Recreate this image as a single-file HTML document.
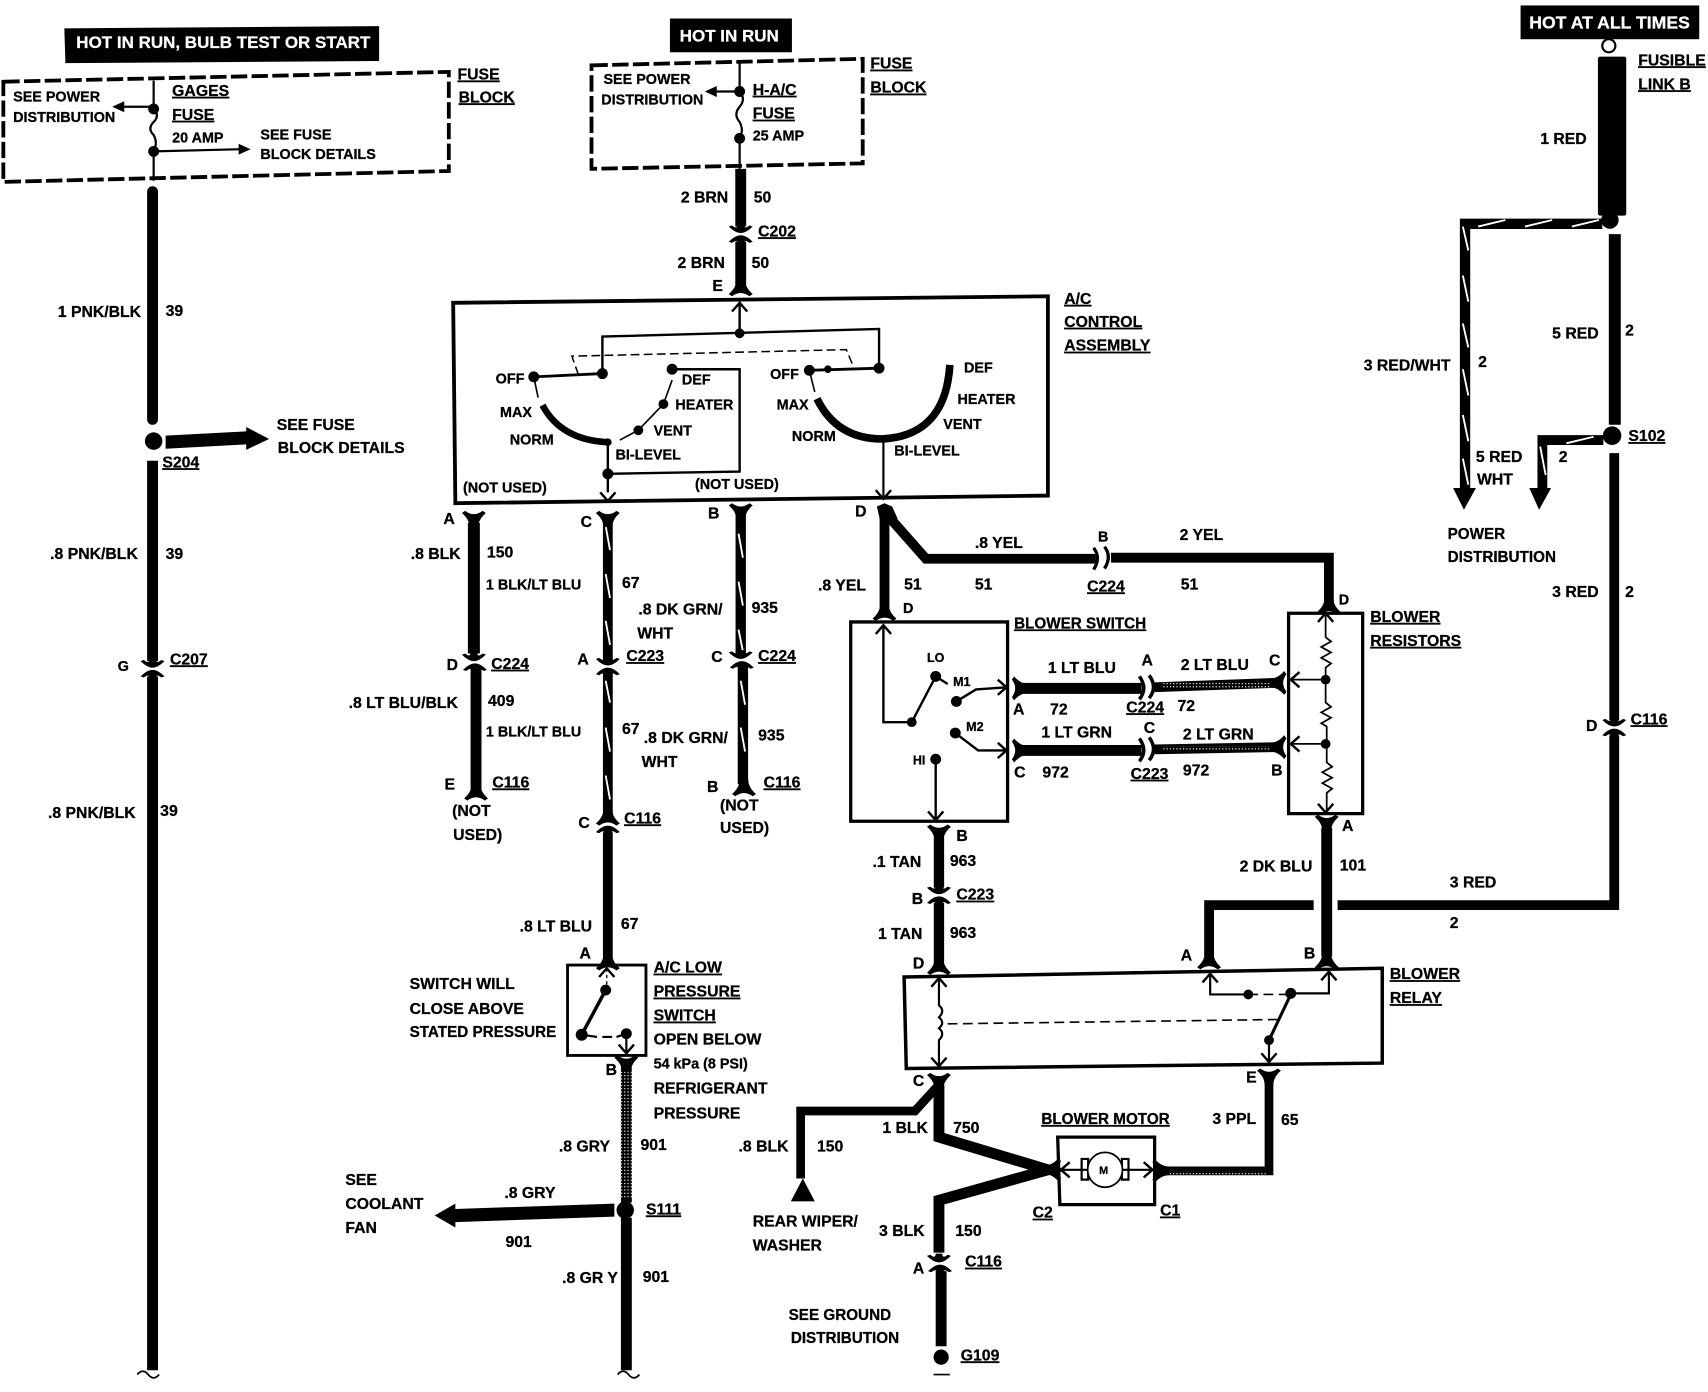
<!DOCTYPE html>
<html><head><meta charset="utf-8"><title>Wiring diagram</title>
<style>
html,body{margin:0;padding:0;background:#fff}
svg{display:block}
text{font-family:"Liberation Sans",sans-serif;font-weight:bold;font-size:14.5px;fill:#000;stroke:#000;stroke-width:.25px}
.s{font-size:13.2px}
.t{font-size:11.5px}
.u{text-decoration:underline}
.w{fill:#fff;stroke:#fff;font-size:15.6px}
.k{fill:none;stroke:#000;stroke-linejoin:miter}
.h{fill:none;stroke:#fff;stroke-width:1.7}
</style></head><body>
<svg width="1708" height="1392" viewBox="0 0 1568 1278" xmlns="http://www.w3.org/2000/svg">
<defs>
<path id="n" d="M-11,5 L-8,7 Q0,1 8,7 L11,5 Q4,-1 4,-8 L-4,-8 Q-4,-1 -11,5Z"/>
<path id="v" d="M-11,-5 L-8,-7 Q0,-1 8,-7 L11,-5 Q4,1 4,8 L-4,8 Q-4,1 -11,-5Z"/>
<path id="r" d="M-5,-11 L-7,-8 Q-1,0 -7,8 L-5,11 Q1,4 8,4 L8,-4 Q1,-4 -5,-11Z"/>
<path id="l" d="M5,-11 L7,-8 Q1,0 7,8 L5,11 Q-1,4 -8,4 L-8,-4 Q-1,-4 5,-11Z"/>
<path id="it" d="M-11,-7 L-8,-8 Q-3,-4 -3,-9 L3,-9 Q3,-4 8,-8 L11,-7 Q5,-1 0,-1 Q-5,-1 -11,-7Z"/>
<path id="ib" d="M-11,7 L-8,8 Q-3,4 -3,9 L3,9 Q3,4 8,8 L11,7 Q5,1 0,1 Q-5,1 -11,7Z"/>
<path id="au" d="M-7,8 L0,0 L7,8" fill="none" stroke="#000" stroke-width="2.2"/>
<path id="ad" d="M-7,-8 L0,0 L7,-8" fill="none" stroke="#000" stroke-width="2.2"/>
<path id="ar" d="M-8,-7 L0,0 L-8,7" fill="none" stroke="#000" stroke-width="2.2"/>
<path id="al" d="M8,-7 L0,0 L8,7" fill="none" stroke="#000" stroke-width="2.2"/>
<path id="wv" d="M-10,0 q5,-6 10,0 q5,6 10,0" fill="none" stroke="#000" stroke-width="1.6"/>
<pattern id="pd" width="3" height="3" patternUnits="userSpaceOnUse"><rect width="1.1" height="1.1" fill="#fff"/></pattern>
</defs>
<rect width="1568" height="1278" fill="#fff"/>

<!-- Left column -->
<polygon points="59,26 348,24 348,56 60,58" fill="#000"/>
<text x="70" y="44" class="w">HOT IN RUN, BULB TEST OR START</text>
<path class="k" stroke-width="3.5" stroke-dasharray="15 4" d="M3,75 L412,66 L412,157 L3,167Z"/>
<path class="k" stroke-width="2" d="M141,74 V100 q6,6 0,12 q-6,6 0,12 q4,7 0,15 V166 M141,98 H112 M141,139 L222,137"/>
<polygon points="103,98 114,93 114,103"/><polygon points="230,137 219,132 219,142"/>
<circle cx="141" cy="100" r="5"/><circle cx="141" cy="139" r="5"/>
<text x="12" y="93" class="s">SEE POWER</text><text x="12" y="112" class="s">DISTRIBUTION</text>
<text x="158" y="88" class="u">GAGES</text><text x="158" y="110" class="u">FUSE</text><text x="158" y="131" class="s">20 AMP</text>
<text x="239" y="128" class="s">SEE FUSE</text><text x="239" y="146" class="s">BLOCK DETAILS</text>
<text x="420" y="73" class="u">FUSE</text><text x="421" y="94" class="u">BLOCK</text>

<path class="k" stroke-width="10" stroke-linecap="round" d="M140,176 V385"/>
<circle cx="141" cy="405" r="8"/>
<polygon points="152,400 226,396 226,392 247,403 226,413 226,408 152,412"/>
<path class="k" stroke-width="10" d="M140,423 V607 M140,621 V1258"/>
<use href="#it" x="140" y="614"/><use href="#ib" x="140" y="614"/>
<use href="#wv" x="136" y="1262"/>
<text x="53" y="291">1 PNK/BLK</text><text x="152" y="290">39</text>
<text x="149" y="429" class="u">S204</text>
<text x="254" y="395">SEE FUSE</text><text x="255" y="416">BLOCK DETAILS</text>
<text x="46" y="513">.8 PNK/BLK</text><text x="152" y="513">39</text>
<text x="108" y="616" class="s">G</text><text x="156" y="610" class="u">C207</text>
<text x="44" y="751">.8 PNK/BLK</text><text x="147" y="749">39</text>

<!-- Center top -->
<rect x="615" y="17" width="112" height="31" fill="#000"/>
<text x="624" y="38" class="w">HOT IN RUN</text>
<path class="k" stroke-width="3.5" stroke-dasharray="15 4" d="M543,60 L792,54 L792,150 L543,155Z"/>
<path class="k" stroke-width="2" d="M679,56 V84 q6,7 0,14 q-6,7 0,14 q4,7 0,15 V155 M679,84 H656"/>
<polygon points="647,84 658,79 658,89"/>
<circle cx="679" cy="84" r="5"/><circle cx="679" cy="127" r="5"/>
<text x="554" y="77" class="s">SEE POWER</text><text x="552" y="96" class="s">DISTRIBUTION</text>
<text x="691" y="87" class="u">H-A/C</text><text x="691" y="109" class="u">FUSE</text><text x="691" y="129" class="s">25 AMP</text>
<text x="799" y="63" class="u">FUSE</text><text x="799" y="85" class="u">BLOCK</text>
<path class="k" stroke-width="10" d="M680,155 V208 M680,222 V262"/>
<use href="#it" x="680" y="215"/><use href="#ib" x="680" y="215"/><use href="#n" x="680" y="265"/>
<text x="625" y="186">2 BRN</text><text x="692" y="186">50</text><text x="696" y="217" class="u">C202</text>
<text x="622" y="246">2 BRN</text><text x="690" y="246">50</text><text x="654" y="267">E</text>

<!-- A/C control -->
<path class="k" stroke-width="3.5" d="M416,278 L962,272 V455 L418,462Z"/>
<text x="977" y="279" class="u">A/C</text><text x="977" y="300" class="u">CONTROL</text><text x="977" y="322" class="u">ASSEMBLY</text>
<path class="k" stroke-width="2.2" d="M679,278 V306 M553,343 V309 L807,302 V338"/>
<use href="#au" x="679" y="278"/>
<circle cx="679" cy="306" r="4.5"/><circle cx="553" cy="343" r="5"/><circle cx="807" cy="338" r="5"/>
<path class="k" stroke-width="1.4" stroke-dasharray="8 4" d="M531,344 L525,327 L777,321 L784,338"/>
<path class="k" stroke-width="2.6" d="M490,346 L553,343"/>
<circle cx="490" cy="346" r="5"/>
<path class="k" stroke-width="1.5" d="M490,346 L494,365"/>
<path class="k" stroke-width="6" d="M498,372 Q515,404 558,406"/>
<path class="k" stroke-width="2.2" d="M558,406 V452 M617,339 H679 V433 L558,435"/>
<use href="#ad" x="558" y="460"/>
<circle cx="617" cy="339" r="5"/><circle cx="558" cy="435" r="5"/><circle cx="558" cy="406" r="3.5"/>
<path class="k" stroke-width="1.5" d="M617,349 L609,371 L586,395 L569,404"/>
<circle cx="609" cy="371" r="4.5"/><circle cx="586" cy="395" r="4.5"/>
<path class="k" stroke-width="2.6" d="M743,340 L807,338"/>
<circle cx="743" cy="340" r="5"/><circle cx="760" cy="339" r="3.5"/>
<path class="k" stroke-width="1.5" d="M743,340 L748,360"/>
<path class="k" stroke-width="7" d="M750,366 Q768,403 810,403 Q868,400 872,335"/>
<path class="k" stroke-width="2" d="M811,404 V456"/>
<use href="#ad" x="811" y="458"/>
<g><text x="455" y="352" class="s">OFF</text><text x="459" y="383" class="s">MAX</text><text x="468" y="408" class="s">NORM</text><text x="565" y="422" class="s">BI-LEVEL</text><text x="425" y="452" class="s">(NOT USED)</text><text x="638" y="449" class="s">(NOT USED)</text><text x="626" y="353" class="s">DEF</text><text x="620" y="376" class="s">HEATER</text><text x="600" y="400" class="s">VENT</text><text x="707" y="348" class="s">OFF</text><text x="713" y="376" class="s">MAX</text><text x="727" y="405" class="s">NORM</text><text x="821" y="418" class="s">BI-LEVEL</text><text x="885" y="342" class="s">DEF</text><text x="879" y="371" class="s">HEATER</text><text x="866" y="394" class="s">VENT</text></g>

<!-- Wire A -->
<path class="k" stroke-width="11" d="M435,480 V600"/>
<path class="k" stroke-width="10" d="M437,614 V725"/>
<use href="#v" x="435" y="476"/><use href="#it" x="435" y="608"/><use href="#ib" x="436" y="608"/><use href="#n" x="437" y="728"/>
<text x="407" y="481">A</text><text x="377" y="513">.8 BLK</text><text x="447" y="512">150</text>
<text x="410" y="615">D</text><text x="451" y="614" class="u">C224</text>
<text x="320" y="650">.8 LT BLU/BLK</text><text x="448" y="648">409</text>
<text x="408" y="725">E</text><text x="452" y="723" class="u">C116</text>
<text x="415" y="749">(NOT</text><text x="416" y="771">USED)</text>

<!-- Wire C -->
<path class="k" stroke-width="9" d="M558,478 V606 M558,618 V748 M558,764 V880"/>
<path class="h" d="M556,483 l4,22 M556,527 l4,22 M556,570 l4,22 M556,625 l4,20 M556,668 l4,22 M556,712 l4,22"/>
<use href="#v" x="558" y="476"/><use href="#it" x="558" y="612"/><use href="#ib" x="558" y="612"/><use href="#n" x="558" y="751"/><use href="#ib" x="558" y="757"/><use href="#n" x="558" y="884"/>
<text x="533" y="484">C</text><text x="446" y="541" class="s">1 BLK/LT BLU</text><text x="571" y="540">67</text>
<text x="530" y="610">A</text><text x="575" y="607" class="u">C223</text>
<text x="446" y="676" class="s">1 BLK/LT BLU</text><text x="571" y="674">67</text>
<text x="531" y="760">C</text><text x="573" y="756" class="u">C116</text>
<text x="477" y="855">.8 LT BLU</text><text x="570" y="853">67</text><text x="532" y="880">A</text>

<!-- Wire B -->
<path class="k" stroke-width="9.5" d="M680,472 V600 M682,612 V720"/>
<path class="h" d="M678,490 l4,22 M678,534 l4,22 M678,578 l4,20 M680,625 l4,22 M680,668 l4,22"/>
<use href="#v" x="680" y="469"/><use href="#it" x="680" y="606"/><use href="#ib" x="681" y="606"/><use href="#n" x="683" y="724"/>
<text x="650" y="476">B</text><text x="586" y="564">.8 DK GRN/</text><text x="585" y="586">WHT</text><text x="690" y="563">935</text>
<text x="653" y="608">C</text><text x="696" y="607" class="u">C224</text>
<text x="591" y="682">.8 DK GRN/</text><text x="589" y="704">WHT</text><text x="696" y="680">935</text>
<text x="649" y="727">B</text><text x="701" y="723" class="u">C116</text><text x="661" y="744">(NOT</text><text x="661" y="765">USED)</text>

<!-- Pressure switch -->
<path class="k" stroke-width="2.6" d="M521,886 H593 V969 H521Z"/>
<use href="#au" x="557" y="889"/><use href="#ad" x="575" y="967"/>
<path class="k" stroke-width="1.2" stroke-dasharray="3 3" d="M557,889 V904"/>
<path class="k" stroke-width="3.2" d="M556,909 L534,950"/>
<path class="k" stroke-width="2" d="M534,950 L548,952 M553,952 H562 M566,952 L575,949 V966"/>
<circle cx="556" cy="909" r="5"/><circle cx="534" cy="950" r="5.5"/><circle cx="575" cy="949" r="5"/>
<text x="600" y="893" class="u">A/C LOW</text><text x="600" y="915" class="u">PRESSURE</text><text x="600" y="937" class="u">SWITCH</text>
<text x="600" y="959">OPEN BELOW</text><text x="600" y="981" class="s">54 kPa (8 PSI)</text><text x="600" y="1004">REFRIGERANT</text><text x="600" y="1027">PRESSURE</text>
<text x="376" y="908">SWITCH WILL</text><text x="376" y="931">CLOSE ABOVE</text><text x="376" y="952" style="font-size:14px">STATED PRESSURE</text>

<path class="k" stroke-width="10" d="M575,980 V1104 M575,1118 V1258"/>
<rect x="570" y="982" width="10" height="118" fill="url(#pd)"/>
<use href="#v" x="575" y="976"/><use href="#wv" x="577" y="1262"/>
<circle cx="574" cy="1111" r="8"/>
<polygon points="564,1105 418,1110 418,1105 399,1116 418,1127 418,1122 564,1117"/>
<text x="556" y="987">B</text><text x="513" y="1057">.8 GRY</text><text x="588" y="1056">901</text>
<text x="593" y="1115" class="u">S111</text><text x="463" y="1100">.8 GRY</text><text x="464" y="1145">901</text>
<text x="317" y="1088">SEE</text><text x="317" y="1110">COOLANT</text><text x="317" y="1132">FAN</text>
<text x="516" y="1178">.8 GR Y</text><text x="590" y="1177">901</text>

<!-- D yellow wire -->
<path class="k" stroke-width="9" d="M812,470 V558"/>
<path class="k" stroke-width="9" d="M812,470 L850,513 H1006 M1020,512 H1220 V553"/>
<polygon points="805,465 812,462 819,465 824,476 808,478"/>
<path class="k" stroke-width="3" d="M1004,503 q7,9 0,20 M1014,502 q7,9 0,20"/>
<use href="#n" x="812" y="563"/><use href="#n" x="1220" y="557"/>
<text x="785" y="474">D</text><text x="751" y="542">.8 YEL</text><text x="830" y="541">51</text><text x="829" y="563" class="s">D</text>
<text x="895" y="503">.8 YEL</text><text x="895" y="541">51</text><text x="1008" y="497" class="s">B</text><text x="1083" y="496">2 YEL</text>
<text x="998" y="543" class="u">C224</text><text x="1084" y="541">51</text><text x="1229" y="555" class="s">D</text>

<!-- Blower switch -->
<path class="k" stroke-width="3" d="M781,571 H925 V754 H781Z"/>
<path class="k" stroke-width="2.2" d="M811,574 V663 H837 L859,621 M878,644 L896,633 L924,631 M877,673 L898,689 H924 M859,697 V753 M859,621 L870,628"/>
<use href="#au" x="811" y="574"/><use href="#ar" x="924" y="631"/><use href="#ar" x="924" y="689"/><use href="#ad" x="859" y="753"/>
<circle cx="837" cy="663" r="4.5"/><circle cx="859" cy="621" r="5"/><circle cx="878" cy="644" r="5"/><circle cx="877" cy="673" r="5"/><circle cx="859" cy="697" r="5"/>
<text x="931" y="577" class="u" style="font-size:14px">BLOWER SWITCH</text>
<text x="851" y="608" class="t">LO</text><text x="875" y="630" class="t">M1</text><text x="887" y="671" class="t">M2</text><text x="838" y="702" class="t">HI</text>

<path class="k" stroke-width="10" d="M939,632 H1048 M939,689 H1048"/>
<path class="k" stroke-width="9" d="M1060,631 L1170,627 M1060,688 L1170,686"/>
<rect x="1066" y="627" width="104" height="5" fill="url(#pd)"/><rect x="1066" y="685" width="104" height="5" fill="url(#pd)"/>
<path class="k" stroke-width="3.2" d="M1046,621 q8,11 0,21 M1055,620 q8,11 0,21 M1046,678 q8,11 0,21 M1055,677 q8,11 0,21"/>
<use href="#r" x="936" y="632"/><use href="#r" x="936" y="689"/><use href="#l" x="1174" y="627"/><use href="#l" x="1174" y="686"/>
<text x="962" y="618">1 LT BLU</text><text x="1048" y="611">A</text><text x="1084" y="615">2 LT BLU</text><text x="1165" y="611">C</text>
<text x="930" y="656">A</text><text x="964" y="656">72</text><text x="1034" y="654" class="u">C224</text><text x="1081" y="653">72</text>
<text x="956" y="677">1 LT GRN</text><text x="1050" y="673">C</text><text x="1086" y="679">2 LT GRN</text>
<text x="931" y="714">C</text><text x="957" y="714">972</text><text x="1038" y="715" class="u">C223</text><text x="1086" y="712">972</text><text x="1167" y="712">B</text>

<!-- Resistors -->
<path class="k" stroke-width="3" d="M1183,563 H1251 V747 H1183Z"/>
<path class="k" stroke-width="1.6" d="M1217,563 V585 l5,4 l-9,5 l9,5 l-9,5 l9,5 l-5,4 V645 l5,4 l-9,5 l9,5 l-9,5 l5,3 V700 l5,4 l-9,5 l9,5 l-9,5 l9,5 l-5,4 V745 M1186,624 H1217 M1186,683 H1217"/>
<use href="#au" x="1217" y="563"/><use href="#ad" x="1217" y="746"/><use href="#al" x="1185" y="624"/><use href="#al" x="1185" y="683"/>
<circle cx="1217" cy="624" r="4.5"/><circle cx="1217" cy="683" r="4.5"/>
<text x="1258" y="571" class="u">BLOWER</text><text x="1258" y="593" class="u">RESISTORS</text>

<path class="k" stroke-width="10" d="M1218,760 V878"/>
<use href="#v" x="1218" y="755"/><use href="#n" x="1218" y="883"/>
<text x="1232" y="763">A</text><text x="1138" y="800">2 DK BLU</text><text x="1230" y="799">101</text>

<!-- Blower relay -->
<path class="k" stroke-width="3.2" d="M830,897 L1269,889 V976 L832,981Z"/>
<path class="k" stroke-width="2" d="M862,898 V923 q6,5 0,11 q6,5 0,10 q6,5 0,11 V979 M1111,894 V913 H1146 M1185,912 H1220 V892"/>
<path class="k" stroke-width="2.8" d="M1185,913 L1165,955"/>
<path class="k" stroke-width="2" d="M1165,955 V975"/>
<path class="k" stroke-width="1.5" stroke-dasharray="9 5" d="M870,940 L1174,936 M1146,913 H1185"/>
<use href="#au" x="862" y="898"/><use href="#ad" x="862" y="979"/><use href="#au" x="1111" y="894"/><use href="#au" x="1220" y="892"/><use href="#ad" x="1165" y="975"/>
<circle cx="1146" cy="913" r="4.5"/><circle cx="1185" cy="912" r="5"/><circle cx="1165" cy="955" r="4.5"/>
<text x="1276" y="899" class="u">BLOWER</text><text x="1276" y="921" class="u">RELAY</text>

<!-- Tan wire -->
<path class="k" stroke-width="9.5" d="M862,768 V815 M862,829 V884"/>
<use href="#v" x="862" y="764"/><use href="#it" x="862" y="822"/><use href="#ib" x="862" y="822"/><use href="#n" x="862" y="888"/>
<text x="878" y="772">B</text><text x="801" y="796">.1 TAN</text><text x="872" y="795">963</text><text x="837" y="830">B</text><text x="878" y="826" class="u">C223</text><text x="806" y="862">1 TAN</text><text x="872" y="861">963</text>
<text x="838" y="889">D</text><text x="1084" y="882">A</text><text x="1197" y="880">B</text><text x="838" y="997">C</text><text x="1144" y="994">E</text>

<!-- 3 RED crossing -->
<path class="k" stroke-width="11" d="M1482.5,215 V390"/>
<path class="k" stroke-width="9" d="M1482,416 V661 M1482,675 V831 H1228 M1206,831 H1110 V878"/>
<use href="#n" x="1110" y="883"/>
<use href="#it" x="1482" y="668"/><use href="#ib" x="1482" y="668"/>
<text x="1331" y="815">3 RED</text><text x="1331" y="852">2</text>

<!-- Bottom of relay -->
<use href="#v" x="862" y="992"/><use href="#v" x="1165" y="988"/>
<path class="k" stroke-width="10" d="M862,996 V1044 L962,1074 L862,1102 V1150"/>
<path class="k" stroke-width="8" d="M860,998 L840,1020 H735 V1082"/>
<path class="k" stroke-width="8" d="M1165,992 V1075 H1068"/>
<rect x="1072" y="1075" width="90" height="4" fill="url(#pd)"/>
<polygon points="737,1082 726,1103 748,1103"/>
<use href="#it" x="862" y="1160"/><use href="#ib" x="863" y="1160"/>
<path class="k" stroke-width="10" d="M864,1167 V1236"/>
<circle cx="864" cy="1246" r="7"/>
<path class="k" stroke-width="1.5" d="M857,1262 H872"/>
<path class="k" stroke-width="3" d="M971,1044 H1060 V1106 H973Z"/>
<path class="k" stroke-width="2" d="M974,1074 H998 M1031,1074 H1058 M999,1064 V1083 H993 V1064Z M1030,1064 V1083 H1036 V1064Z"/>
<circle cx="1014.5" cy="1074" r="16" fill="#fff" stroke="#000" stroke-width="1.6"/>
<use href="#al" x="974" y="1074"/><use href="#ar" x="1058" y="1074"/>
<use href="#l" x="967" y="1074"/><use href="#r" x="1065" y="1075"/>
<text x="1009" y="1078" style="font-size:10px">M</text>
<text x="956" y="1032" class="u" style="font-size:14px">BLOWER MOTOR</text>
<text x="810" y="1040">1 BLK</text><text x="875" y="1040">750</text><text x="678" y="1057">.8 BLK</text><text x="750" y="1057">150</text>
<text x="1113" y="1032">3 PPL</text><text x="1176" y="1033">65</text><text x="948" y="1118" class="u">C2</text><text x="1065" y="1116" class="u">C1</text>
<text x="691" y="1126">REAR WIPER/</text><text x="691" y="1148">WASHER</text><text x="807" y="1135">3 BLK</text><text x="877" y="1135">150</text>
<text x="838" y="1169">A</text><text x="886" y="1163" class="u">C116</text><text x="724" y="1212" style="font-size:14px">SEE GROUND</text><text x="726" y="1233" style="font-size:14px">DISTRIBUTION</text><text x="882" y="1249" class="u">G109</text>

<!-- Right column -->
<rect x="1396" y="5" width="164" height="31" fill="#000"/>
<text x="1404" y="26" class="w" style="font-size:16.2px">HOT AT ALL TIMES</text>
<circle cx="1477" cy="42" r="6" fill="#fff" stroke="#000" stroke-width="2"/>
<rect x="1467" y="52" width="26" height="146" rx="2"/>
<circle cx="1478" cy="202" r="8"/>
<text x="1504" y="60" class="u">FUSIBLE</text><text x="1504" y="82" class="u">LINK B</text><text x="1414" y="132">1 RED</text>
<path class="k" stroke-width="9.5" d="M1471,205.5 H1345 V450"/>
<path class="h" d="M1343,208 l5,22 M1343,253 l5,24 M1343,297 l5,22 M1343,339 l5,24 M1343,381 l5,24 M1343,421 l5,24 M1357,208 l25,-6 M1400,208 l25,-6 M1443,208 l25,-6"/>
<polygon points="1334,448 1355,448 1344,468"/>
<path class="k" stroke-width="9" d="M1472,404 H1416 V450"/>
<path class="h" d="M1414,410 l5,26 M1438,407 l25,-6"/>
<polygon points="1404,448 1424,448 1413,468"/>
<circle cx="1480" cy="400" r="8.5"/>
<text x="1252" y="340">3 RED/WHT</text><text x="1357" y="337">2</text><text x="1355" y="424">5 RED</text><text x="1356" y="445">WHT</text>
<text x="1425" y="311">5 RED</text><text x="1492" y="308">2</text><text x="1431" y="424">2</text><text x="1495" y="405" class="u">S102</text>
<text x="1329" y="495" style="font-size:14px">POWER</text><text x="1329" y="516" style="font-size:14px">DISTRIBUTION</text>
<text x="1425" y="548">3 RED</text><text x="1492" y="548">2</text><text x="1456" y="671">D</text><text x="1497" y="665" class="u">C116</text>
</svg>
</body></html>
